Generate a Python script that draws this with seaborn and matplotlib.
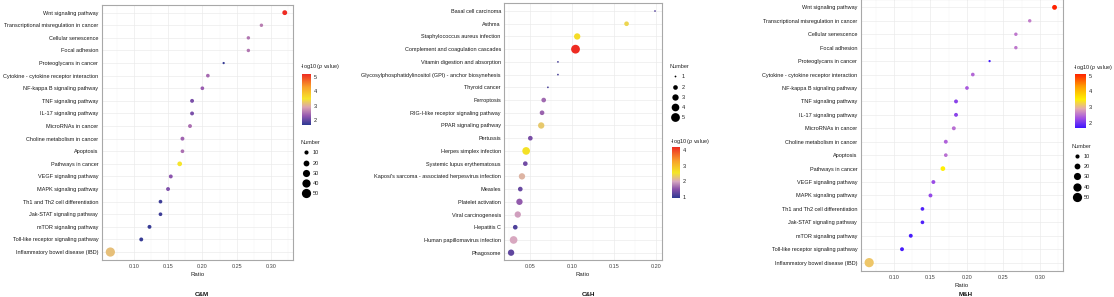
import matplotlib
matplotlib.use('Agg')
import matplotlib.pyplot as plt
import pandas as pd
import seaborn as sns
from matplotlib.colors import LinearSegmentedColormap, Normalize
from matplotlib.cm import ScalarMappable
from matplotlib.lines import Line2D
from matplotlib.ticker import MultipleLocator

# C&M and M&H use the same pathway table
cm_terms = ['Wnt signaling pathway', 'Transcriptional misregulation in cancer',
            'Cellular senescence', 'Focal adhesion', 'Proteoglycans in cancer',
            'Cytokine - cytokine receptor interaction', 'NF-kappa B signaling pathway',
            'TNF signaling pathway', 'IL-17 signaling pathway', 'MicroRNAs in cancer',
            'Choline metabolism in cancer', 'Apoptosis', 'Pathways in cancer',
            'VEGF signaling pathway', 'MAPK signaling pathway',
            'Th1 and Th2 cell differentiation', 'Jak-STAT signaling pathway',
            'mTOR signaling pathway', 'Toll-like receptor signaling pathway',
            'Inflammatory bowel disease (IBD)']
cm_ratio = [0.320, 0.286, 0.267, 0.267, 0.231, 0.208, 0.200, 0.185, 0.185, 0.182,
            0.171, 0.171, 0.167, 0.154, 0.150, 0.139, 0.139, 0.123, 0.111, 0.066]
cm_number = [14, 7, 7, 7, 3, 8, 8, 9, 9, 9, 9, 8, 13, 9, 9, 8, 8, 9, 9, 50]
cm_logp = [5.2, 2.6, 2.55, 2.55, 1.75, 2.45, 2.35, 2.15, 2.15, 2.5,
           2.4, 2.5, 3.5, 2.25, 2.2, 1.8, 1.8, 1.75, 1.75, 3.15]

ch_terms = ['Basal cell carcinoma', 'Asthma', 'Staphylococcus aureus infection',
            'Complement and coagulation cascades', 'Vitamin digestion and absorption',
            'Glycosylphosphatidylinositol (GPI) - anchor biosynehesis', 'Thyroid cancer',
            'Ferroptosis', 'RIG-I-like receptor signaling pathway', 'PPAR signaling pathway',
            'Pertussis', 'Herpes simplex infection', 'Systemic lupus erythematosus',
            "Kaposi's sarcoma - associated herpesvirus infection", 'Measles',
            'Platelet activation', 'Viral carcinogenesis', 'Hepatitis C',
            'Human papillomavirus infection', 'Phagosome']
ch_ratio = [0.199, 0.165, 0.106, 0.104, 0.083, 0.083, 0.071, 0.066, 0.064, 0.063,
            0.050, 0.045, 0.044, 0.040, 0.038, 0.037, 0.035, 0.032, 0.030, 0.027]
ch_number = [1, 2, 3, 5, 1, 1, 1, 2, 2, 3, 2, 4, 2, 3, 2, 3, 3, 2, 4, 3]
ch_logp = [1.2, 2.4, 2.65, 4.2, 1.1, 1.1, 1.1, 1.65, 1.6, 2.3,
           1.4, 2.6, 1.35, 2.1, 1.3, 1.55, 1.95, 1.15, 2.0, 1.25]

cm_size_legend = [10, 20, 30, 40, 50]
ch_size_legend = [1, 2, 3, 4, 5]

sns.set_style('white')
plt.rcParams['font.family'] = ['Liberation Sans', 'DejaVu Sans']
plt.rcParams['mathtext.fontset'] = 'custom'
plt.rcParams['mathtext.it'] = 'Liberation Sans:italic'
plt.rcParams['mathtext.rm'] = 'Liberation Sans'

W, H = 1114, 297
FS = 4.0
PTITLE = r'-log10 ($\it{p}$ value)'


def box(l, t, r, b):
    return [l / W, (H - b) / H, (r - l) / W, (b - t) / H]


def make_cmap(lo, hi, stops):
    pts = [((v - lo) / (hi - lo), c) for v, c in stops]
    return LinearSegmentedColormap.from_list('p', pts)


cmap1 = make_cmap(1.68, 5.19, [(1.68, '#2c3992'), (2.3, '#9457b0'), (2.9, '#dba3b2'),
                               (3.5, '#f6e52a'), (4.3, '#f8a12a'), (5.19, '#ee2b22')])
cmap2 = make_cmap(0.92, 4.2, [(0.92, '#2c3992'), (1.5, '#8a52aa'), (2.0, '#d8a8c0'),
                              (2.55, '#f4e626'), (3.3, '#f8a02a'), (4.2, '#ee2b22')])
cmap3 = make_cmap(1.66, 5.1, [(1.66, '#3a14ff'), (2.3, '#a452e2'), (2.9, '#e2aab0'),
                              (3.5, '#fff000'), (4.3, '#ffa000'), (5.1, '#ff2200')])

fig = plt.figure(figsize=(W / 100, H / 100), dpi=100)


def panel(rect, terms, ratio, number, logp, cmap, lo, hi, size_norm, sizes,
          xlim, title, title_xy, ratio_y):
    df = pd.DataFrame({'term': terms, 'Ratio': ratio, 'Number': number, 'logp': logp})
    ax = fig.add_axes(box(*rect))
    sns.scatterplot(data=df, x='Ratio', y='term', hue='logp', palette=cmap,
                    hue_norm=Normalize(lo, hi), size='Number', sizes=sizes,
                    size_norm=size_norm, linewidth=0, legend=False, ax=ax, zorder=3)
    ax.set_ylim(len(terms) - 0.4, -0.6)
    ax.set_xlim(*xlim)
    ax.xaxis.set_major_locator(MultipleLocator(0.05))
    ax.xaxis.set_minor_locator(MultipleLocator(0.025))
    ax.grid(True, which='major', color='#ebebeb', lw=0.5)
    ax.grid(True, which='minor', axis='x', color='#f2f2f2', lw=0.3)
    ax.set_axisbelow(True)
    for s in ax.spines.values():
        s.set_color('#a8a8a8')
        s.set_linewidth(0.8)
    ax.tick_params(axis='both', which='major', length=1.5, width=0.4, color='#555555',
                   labelsize=FS, pad=1, labelcolor='#1a1a1a')
    ax.tick_params(axis='x', labelcolor='#444444', pad=1.5)
    ax.tick_params(which='minor', length=0)
    ax.set_xticklabels([f'{t:.2f}' for t in ax.get_xticks()])
    ax.set_ylabel('')
    ax.set_xlabel('')
    cx = (rect[0] + rect[2]) / 2
    fig.text(cx / W, 1 - ratio_y / H, 'Ratio', ha='center', va='center',
             fontsize=FS + 0.3, color='#222222')
    fig.text(title_xy[0] / W, 1 - title_xy[1] / H, title, ha='center', va='center',
             fontsize=FS + 0.5, fontweight='bold', color='#111111')
    return ax


def colorbar(rect, cmap, lo, hi, ticks, title_xy):
    cax = fig.add_axes(box(*rect))
    cb = fig.colorbar(ScalarMappable(Normalize(lo, hi), cmap), cax=cax)
    cb.outline.set_visible(False)
    cb.set_ticks(ticks)
    cax.tick_params(length=0, labelsize=FS, pad=2, labelcolor='#222222')
    fig.text(title_xy[0] / W, 1 - title_xy[1] / H, PTITLE, ha='left', va='center',
             fontsize=FS, color='#222222')


def size_legend(values, size_norm, sizes, xy):
    a, b = size_norm
    handles = []
    for v in values:
        s = sizes[0] + (sizes[1] - sizes[0]) * (v - a) / (b - a)
        handles.append(Line2D([], [], marker='o', ls='', color='black',
                              markersize=s ** 0.5, markeredgewidth=0, label=str(v)))
    leg = fig.legend(handles=handles, loc='upper left',
                     bbox_to_anchor=(xy[0] / W, 1 - xy[1] / H), frameon=False,
                     title='Number', fontsize=FS, title_fontsize=FS,
                     labelspacing=0.95, handlelength=1.8, handletextpad=0.35,
                     borderpad=0, borderaxespad=0, alignment='left')
    plt.setp(leg.get_texts(), color='#222222')


cm_norm, cm_sizes = (0, 50), (0, 44)
ch_norm, ch_sizes = (1, 5), (1.6, 40)

# C&M
panel((101.7, 5.1, 293, 259.6), cm_terms, cm_ratio, cm_number, cm_logp, cmap1,
      1.68, 5.19, cm_norm, cm_sizes, (0.0534, 0.332), 'C&M', (201.7, 294.5), 274)
colorbar((302, 74, 310.7, 125), cmap1, 1.68, 5.19, [2, 3, 4, 5], (300.5, 66.7))
size_legend(cm_size_legend, cm_norm, cm_sizes, (300.5, 140))

# C&H
panel((504.3, 3.4, 661.7, 260.3), ch_terms, ch_ratio, ch_number, ch_logp, cmap2,
      0.92, 4.2, ch_norm, ch_sizes, (0.0189, 0.207), 'C&H', (588, 294.5), 275)
size_legend(ch_size_legend, ch_norm, ch_sizes, (670, 64))
colorbar((672.3, 146.7, 680, 198.3), cmap2, 0.92, 4.2, [1, 2, 3, 4], (670, 141.7))

# M&H
panel((860.7, -0.7, 1063.3, 270.7), cm_terms, cm_ratio, cm_number, cm_logp, cmap3,
      1.66, 5.1, cm_norm, cm_sizes, (0.0544, 0.332), 'M&H', (966, 294), 285.7)
colorbar((1075, 74, 1085.7, 128.3), cmap3, 1.66, 5.1, [2, 3, 4, 5], (1073.3, 67.3))
size_legend(cm_size_legend, cm_norm, cm_sizes, (1072, 143.5))

fig.savefig('out.png', dpi=100)
